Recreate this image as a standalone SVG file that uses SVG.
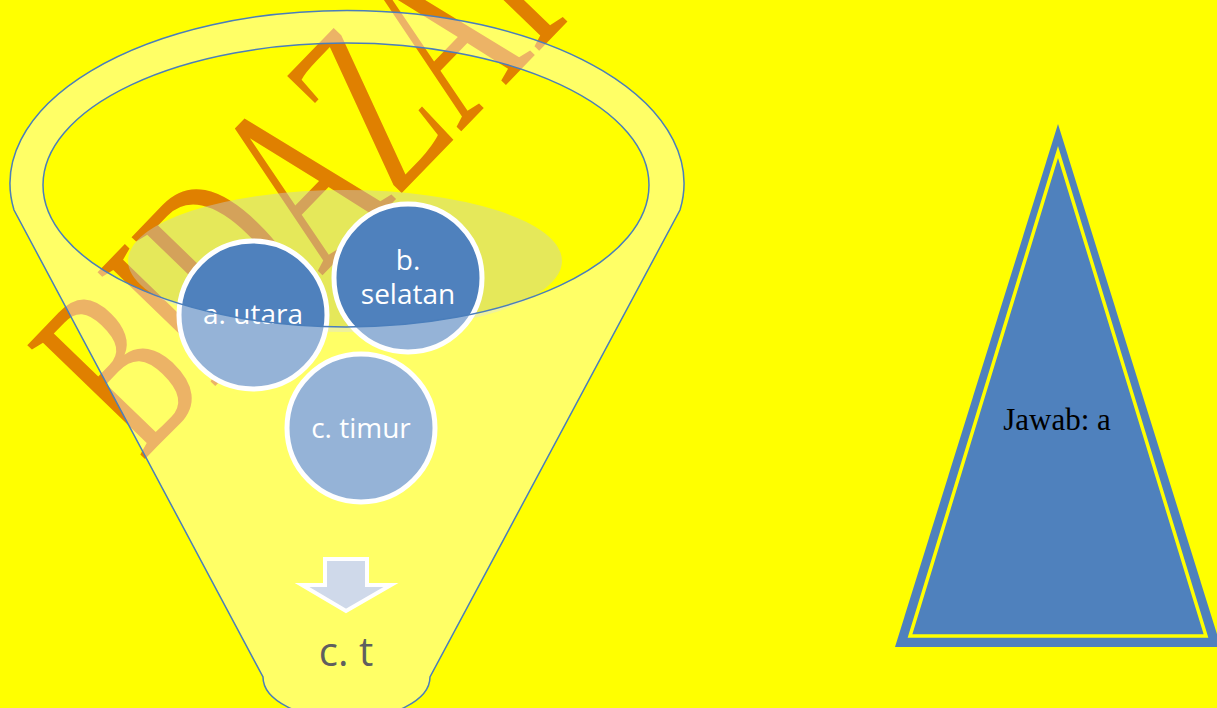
<svg xmlns="http://www.w3.org/2000/svg" width="1217" height="708" viewBox="0 0 1217 708">
<style>
.circ{fill:#4F81BD;stroke:#FFFFFF;stroke-width:5}
.ctext{font-family:"Open Sans","Liberation Sans",sans-serif;font-size:28px;fill:#FFFFFF;text-anchor:middle}
.outline{stroke:#4A7EBB;stroke-width:1.5}
</style>
<rect x="0" y="0" width="1217" height="708" fill="#FFFF00"/>
<g id="watermark">
<text transform="translate(142,462) rotate(-46) scale(0.6,1)" font-family="'Liberation Serif',serif" font-size="250" fill="#E08000">BIDAZARC</text>
</g>
<g id="shade">
<ellipse cx="345" cy="261" rx="217" ry="71" fill="#C5CCC8" fill-opacity="0.45"/>
</g>
<g id="node-a">
<circle class="circ" cx="253" cy="315" r="74"/>
<text class="ctext" x="253" y="324">a. utara</text>
</g>
<g id="node-b">
<circle class="circ" cx="408" cy="278" r="74"/>
<text class="ctext" x="408" y="270">b.</text>
<text class="ctext" x="408" y="304">selatan</text>
</g>
<g id="node-c">
<circle class="circ" cx="361" cy="428" r="74"/>
<text class="ctext" x="361" y="438">c. timur</text>
</g>
<g id="funnel">
<path d="M 14 210 A 337 173 0 1 1 680 210 L 430 677 A 83 42 0 0 1 263 677 Z M 43 185 A 303 142 0 1 0 649 185 A 303 142 0 1 0 43 185 Z" fill="#FFFFFF" fill-opacity="0.4" fill-rule="evenodd" class="outline"/>
</g>
<g id="connectors">
<polygon points="325,559 367,559 367,585 391,585 346,611 302,585 325,585" fill="#CFD9EA" stroke="#FFFFFF" stroke-width="4" stroke-linejoin="miter"/>
</g>
<g id="result">
<text x="346" y="666" font-family="'Open Sans','Liberation Sans',sans-serif" font-size="40" fill="#5F5F5F" text-anchor="middle">c. t</text>
</g>
<g id="answer">
<polygon points="1058,124 1221,647 895,647" fill="#4F81BD"/>
<polygon points="1058,152 1206,636 910,636" fill="none" stroke="#FFFF00" stroke-width="3.5"/>
<text x="1057" y="430" font-family="'Liberation Serif',serif" font-size="31" fill="#000000" text-anchor="middle">Jawab: a</text>
</g>
</svg>
